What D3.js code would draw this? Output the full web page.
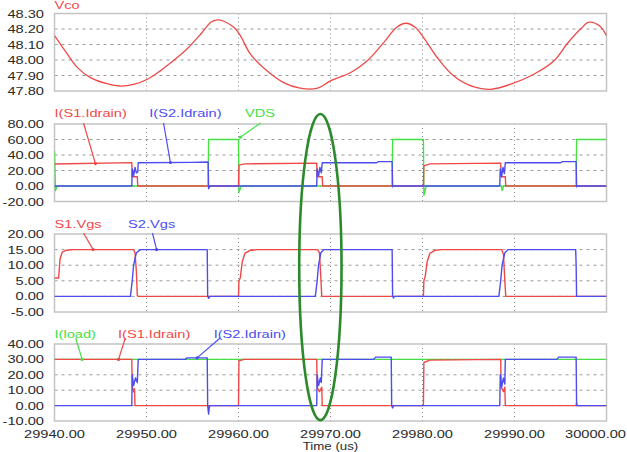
<!DOCTYPE html>
<html><head><meta charset="utf-8">
<script src="https://cdn.jsdelivr.net/npm/d3@7"></script>
<style>
html,body{margin:0;padding:0;background:#fff;overflow:hidden}
svg{display:block}
text{font-family:"Liberation Sans",Arial,sans-serif;font-size:11px}
</style></head><body>
<script>
// ---------------- DATA ----------------
const xTicks = [29940, 29950, 29960, 29970, 29980, 29990, 30000];
const xTickLabels = ["29940.00","29950.00","29960.00","29970.00","29980.00","29990.00","30000.00"];
const xTitle = "Time  (us)";

// Panel 1
const p1Ticks = [48.30, 48.20, 48.10, 48.00, 47.90, 47.80];
const vco = [[29940,48.157],[29941.4,48.038],[29942.5,47.951],[29943.9,47.886],[29945.7,47.847],[29947.2,47.832],[29948.6,47.843],[29950.1,47.876],[29951.5,47.930],[29952.9,47.995],[29954.4,48.071],[29955.9,48.168],[29957.0,48.244],[29957.7,48.259],[29958.4,48.250],[29959.5,48.211],[29960.2,48.157],[29961.3,48.038],[29963.1,47.930],[29964.9,47.854],[29966.7,47.818],[29968.6,47.818],[29970.0,47.865],[29972.2,47.919],[29974.0,47.995],[29975.8,48.114],[29977.2,48.211],[29978.2,48.237],[29979.2,48.211],[29980.1,48.146],[29981.6,48.016],[29983.4,47.897],[29985.6,47.826],[29987.4,47.811],[29989.6,47.844],[29992.1,47.908],[29994.3,47.995],[29995.7,48.103],[29997.2,48.201],[29998.1,48.244],[29999.2,48.222],[30000,48.157]];

// Panel 2
const p2Ticks = [80, 60, 40, 20, 0, -20];
const p2S1Idrain = [[29940,28.3],[29948.4,30.2],[29948.45,12],[29949.0,12],[29949.05,0],[29960.0,0],[29960.05,27],[29960.7,28.5],[29968.5,29.5],[29968.55,12],[29969.1,12],[29969.15,0],[29980.1,0],[29980.15,26],[29980.8,28.5],[29988.5,29.5],[29988.55,12],[29989.0,12],[29989.05,0],[30000,0]];
const p2S2Idrain = [[29940,0],[29948.4,0],[29948.45,22],[29948.6,13],[29948.75,24],[29948.9,17],[29949.05,18],[29949.1,30],[29955.0,30.5],[29956.7,31],[29956.75,-3.5],[29956.9,0],[29968.5,0],[29968.55,22],[29968.7,13],[29968.85,24],[29969.0,17],[29969.1,30],[29975.0,30],[29975.2,31.5],[29976.7,31.5],[29976.75,-1],[29976.9,0],[29988.4,0],[29988.45,22],[29988.6,12],[29988.75,24],[29988.9,16],[29989.0,30],[29995.0,30],[29995.2,31.5],[29996.7,31.5],[29996.75,-1],[29996.9,0],[30000,0]];
const p2VDS = [[29940,45],[29940.1,-6],[29940.3,0],[29956.7,0],[29956.75,60],[29960.0,60],[29960.05,-8],[29960.3,0],[29976.7,0],[29976.75,60],[29980.1,60],[29980.15,-12],[29980.4,0],[29988.6,0],[29988.65,-6],[29988.8,0],[29996.7,0],[29996.75,60],[30000,60]];

// Panel 3
const p3Ticks = [20, 15, 10, 5, 0, -5];
const p3S1Vgs = [[29940,5.9],[29940.45,5.9],[29940.6,12],[29940.85,14.2],[29941.3,14.8],[29942,15],[29948.6,15],[29948.75,14],[29948.9,8],[29949.0,0.3],[29949.1,0],[29960.0,0],[29960.05,5],[29960.2,6],[29960.4,11],[29960.7,13.8],[29961.2,14.7],[29962,15],[29968.6,15],[29968.8,14],[29968.95,6],[29969.05,0],[29980.1,0],[29980.15,5],[29980.3,6.5],[29980.5,11],[29980.8,13.8],[29981.3,14.7],[29982,15],[29988.6,15],[29988.8,13.5],[29988.95,5],[29989.05,0],[30000,0]];
const p3S2Vgs = [[29940,0],[29948.25,0],[29948.45,5],[29948.6,10],[29948.9,14],[29949.35,15],[29956.6,15],[29956.65,0],[29956.75,-0.6],[29956.9,0],[29968.35,0],[29968.55,5],[29968.7,10],[29968.95,14],[29969.3,15],[29976.7,15],[29976.75,0],[29976.85,-0.5],[29976.95,0],[29988.3,0],[29988.5,5],[29988.65,10],[29988.95,14],[29989.3,15],[29996.65,15],[29996.7,10],[29996.75,0],[30000,0]];

// Panel 4
const p4Ticks = [40, 30, 20, 10, 0, -10];
const p4Iload = [[29940,30],[29970,30],[30000,30]];
const p4S1Idrain = [[29940,30],[29948.4,30],[29948.45,12],[29948.6,9],[29948.7,11],[29948.75,0],[29960.0,0],[29960.05,29],[29960.6,30],[29968.5,30],[29968.55,12],[29968.8,9],[29969.05,12],[29969.1,0],[29980.1,0],[29980.15,28],[29980.8,29.5],[29988.5,30],[29988.55,12],[29988.8,9],[29988.95,12],[29989.0,0],[29996.7,0],[29996.75,2],[29996.8,0],[30000,0]];
const p4S2Idrain = [[29940,0],[29948.4,0],[29948.45,20],[29948.6,13],[29948.8,18],[29949.0,15],[29949.1,30],[29954.2,30],[29954.4,31],[29956.6,31],[29956.65,0],[29956.75,-5.5],[29956.85,0],[29968.5,0],[29968.55,20],[29968.7,13],[29968.9,18],[29969.0,15],[29969.1,30],[29974.7,30],[29974.9,31.5],[29976.6,31.5],[29976.65,0],[29976.75,-1.5],[29976.85,0],[29988.4,0],[29988.45,20],[29988.6,12],[29988.8,18],[29988.95,14],[29989.0,30],[29994.6,30],[29994.8,31.5],[29996.7,31.5],[29996.75,0],[30000,0]];

// Callouts [t0, v0, t1, v1]
const p2Labels = ["I(S1.Idrain)", "I(S2.Idrain)", "VDS"];
const p3Labels = ["S1.Vgs", "S2.Vgs"];
const p4Labels = ["I(load)", "I(S1.Idrain)", "I(S2.Idrain)"];
const p2Callouts = [[29943.15,81.3,29944.45,28.9],[29951.85,81.3,29952.6,30.3],[29962.4,81.3,29960.2,63]];
const p3Callouts = [[29943.15,20.3,29944.2,15],[29950.65,20.3,29951.1,15]];
const p4Callouts = [[29942.3,43.9,29943.0,30],[29947.7,43.9,29946.96,30],[29958.0,43.9,29955.5,31]];

// ---------------- DRAW ----------------
const W = 627, H = 452;
const RED = "#f04848", BLUE = "#4c4cf0", GREEN = "#44e044";
const svg = d3.select("body").append("svg").attr("width", W).attr("height", H);
const x = d3.scaleLinear().domain([29940, 30000]).range([54.5, 606.5]);
const SX = 1.33;

const panels = [
  {top:13.5, bottom:91, domain:[47.80,48.30], ticks:p1Ticks, series:[[vco,RED,1.3]], labels:[], callouts:[], labelColors:[]},
  {top:124, bottom:201.5, domain:[-20,80], ticks:p2Ticks, series:[[p2VDS,GREEN,1.4],[p2S1Idrain,RED,1.4],[p2S2Idrain,BLUE,1.4]], labels:p2Labels, callouts:p2Callouts, labelColors:[RED,BLUE,GREEN], labelX:[29940,29950.3,29960.7]},
  {top:234, bottom:312, domain:[-5,20], ticks:p3Ticks, series:[[p3S1Vgs,RED,1.4],[p3S2Vgs,BLUE,1.4]], labels:p3Labels, callouts:p3Callouts, labelColors:[RED,BLUE], labelX:[29940,29948.0]},
  {top:344, bottom:421, domain:[-10,40], ticks:p4Ticks, series:[[p4Iload,GREEN,1.4],[p4S1Idrain,RED,1.4],[p4S2Idrain,BLUE,1.4]], labels:p4Labels, callouts:p4Callouts, labelColors:[GREEN,RED,BLUE], labelX:[29940,29946.9,29957.3]}
];
const labelBase = [0, 117, 228, 338];

function stext(g, tx, ty, str, anchor, color, size) {
  const t = g.append("text").attr("transform", `translate(${tx},${ty}) scale(${SX},1)`)
    .attr("text-anchor", anchor).attr("fill", color).text(str);
  if (size) t.style("font-size", size + "px");
  return t;
}

panels.forEach((p, i) => {
  const y = d3.scaleLinear().domain(p.domain).range([p.bottom, p.top]);
  const g = svg.append("g");
  const cid = "clip" + i;
  svg.append("clipPath").attr("id", cid).append("rect")
    .attr("x", x.range()[0]).attr("y", p.top).attr("width", x.range()[1]-x.range()[0]).attr("height", p.bottom-p.top);
  p.ticks.slice(1, -1).forEach(v => {
    g.append("line").attr("x1", x.range()[0]).attr("x2", x.range()[1]).attr("y1", y(v)).attr("y2", y(v))
      .attr("stroke", "#9a9a9a").attr("stroke-width", 1).attr("stroke-dasharray", "3,4");
  });
  xTicks.slice(1, -1).forEach(t => {
    g.append("line").attr("x1", x(t)).attr("x2", x(t)).attr("y1", p.top).attr("y2", p.bottom)
      .attr("stroke", "#8a8a8a").attr("stroke-width", 1).attr("stroke-dasharray", "1,3");
  });
  g.append("rect").attr("x", x.range()[0]).attr("y", p.top).attr("width", x.range()[1]-x.range()[0]).attr("height", p.bottom-p.top)
    .attr("fill", "none").attr("stroke", "#c4c4c4").attr("stroke-width", 1.5);
  p.ticks.forEach(v => stext(g, 44, y(v) + 4, v.toFixed(2), "end", "#2a2a2a"));
  const line = d3.line().x(d => x(d[0])).y(d => y(d[1]));
  if (i === 0) line.curve(d3.curveCatmullRom.alpha(0.5));
  const sg = g.append("g").attr("clip-path", `url(#${cid})`);
  p.series.forEach(([data, color, w]) => {
    sg.append("path").datum(data).attr("d", line).attr("fill", "none")
      .attr("stroke", color).attr("stroke-width", w).attr("stroke-linejoin", "round");
  });
  p.labels.forEach((lab, k) => {
    stext(g, x(p.labelX[k]), labelBase[i], lab, "start", p.labelColors[k]);
    const c = p.callouts[k];
    g.append("line").attr("x1", x(c[0])).attr("y1", y(c[1])).attr("x2", x(c[2])).attr("y2", y(c[3]))
      .attr("stroke", p.labelColors[k]).attr("stroke-width", 1.2);
    g.append("circle").attr("cx", x(c[2])).attr("cy", y(c[3])).attr("r", 1.6).attr("fill", p.labelColors[k]);
  });
  p.yScale = y;
});

// Panel 1 title
stext(svg, x(29940), 9, "Vco", "start", RED);

// x tick labels (last one kept inside the window)
xTicks.forEach((t, k) => {
  const last = k === xTicks.length - 1;
  stext(svg, last ? W - 1 : x(t), 437.5, xTickLabels[k], last ? "end" : "middle", "#2a2a2a");
});
stext(svg, (x.range()[0] + x.range()[1]) / 2, 449.5, xTitle, "middle", "#2a2a2a", 10);

// green ellipse annotation (spans panels 2-4)
const yTop = panels[1].yScale(92.9), yBot = panels[3].yScale(-9.4);
svg.append("ellipse").attr("cx", x(29968.9)).attr("cy", (yTop + yBot) / 2)
  .attr("rx", x(29971.2) - x(29968.9)).attr("ry", (yBot - yTop) / 2)
  .attr("fill", "none").attr("stroke", "#2c8a2c").attr("stroke-width", 2.6);
</script>
</body></html>
